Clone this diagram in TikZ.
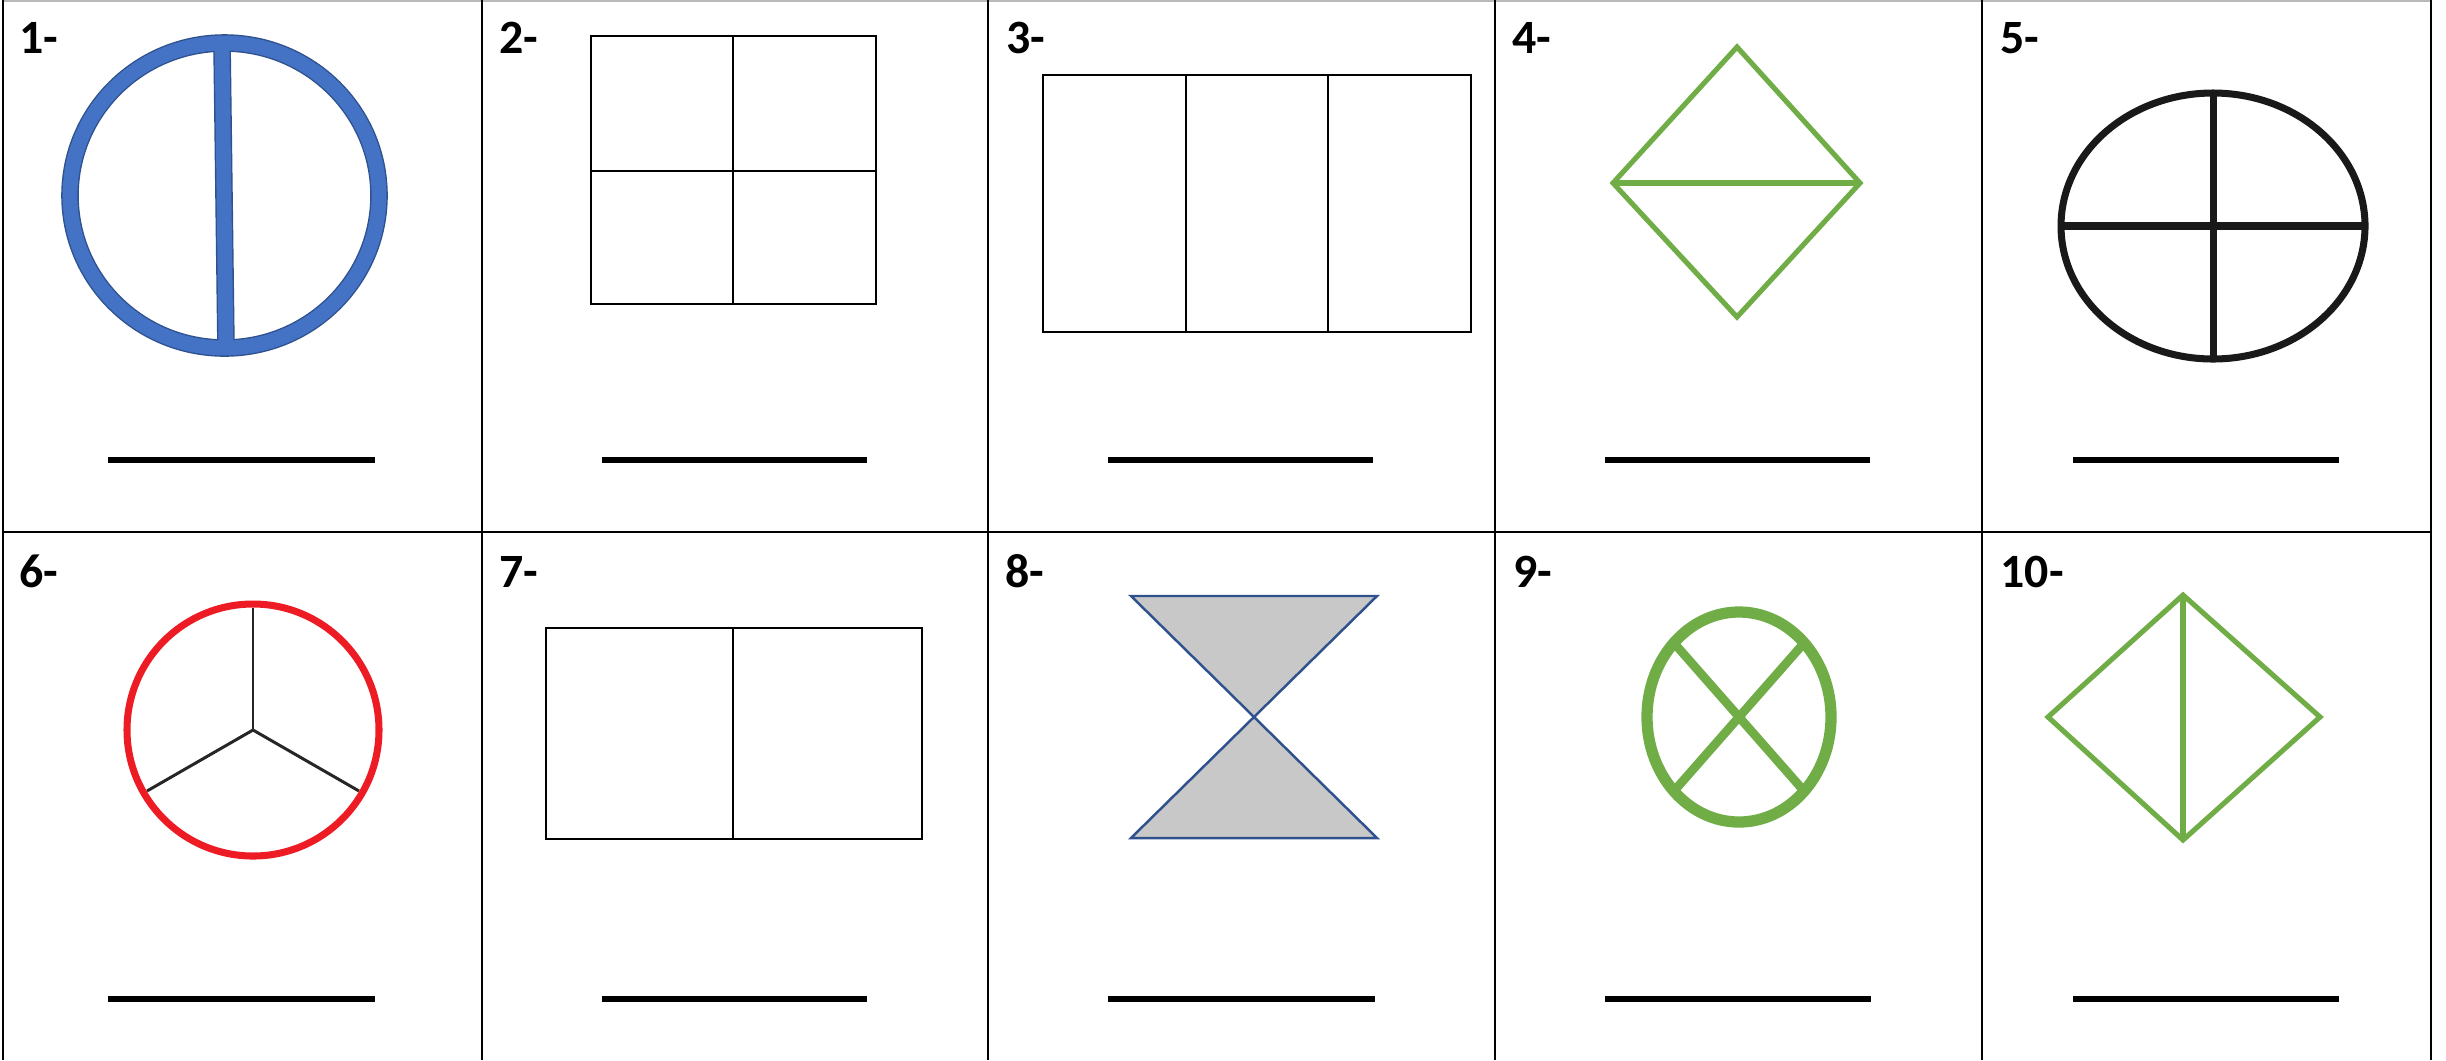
\documentclass[tikz,border=0pt]{standalone}
\usepackage{fontspec}
\setmainfont{Carlito}
\usepackage{xcolor}

\definecolor{shapeblue}{HTML}{4472C4}
\definecolor{edgeblue}{HTML}{2F528F}
\definecolor{leafgreen}{HTML}{70AD47}
\definecolor{ringred}{HTML}{ED1C24}
\definecolor{hourgrey}{HTML}{C8C8C8}

\begin{document}
\begin{tikzpicture}[
    x=0.01cm, y=-0.01cm,
    every node/.style={font=\fontsize{13.6}{15}\selectfont\bfseries},
    num/.style={anchor=base west, inner sep=0pt},
    cellrule/.style={line width=0.6pt},
    blank/.style={line width=1.6pt},
    boxline/.style={line width=0.62pt},
    greenline/.style={draw=leafgreen, line width=1.45pt, line join=miter}
]
\useasboundingbox (0,0) rectangle (2446,1060);

% cells
\draw[cellrule, gray!55] (3,1) -- (2431,1);
\draw[cellrule] (3,0) -- (3,1060);
\draw[cellrule] (482,0) -- (482,1060);
\draw[cellrule] (988,0) -- (988,1060);
\draw[cellrule] (1495,0) -- (1495,1060);
\draw[cellrule] (1982,0) -- (1982,1060);
\draw[cellrule] (2431,0) -- (2431,1060);
\draw[cellrule] (3,532) -- (2431,532);

% numbers
\node[num] (n1) at (19,53) {1-};
\node[num] (n2) at (499,53) {2-};
\node[num] (n3) at (1006,53) {3-};
\node[num] (n4) at (1512,53) {4-};
\node[num] (n5) at (2000,53) {5-};
\node[num] (n6) at (19,587) {6-};
\node[num] (n7) at (499,587) {7-};
\node[num] (n8) at (1005,587) {8-};
\node[num] (n9) at (1513,587) {9-};
\node[num] (n10) at (2000,587) {10-};

% answer lines
\draw[blank] (108,460) -- (375,460);
\draw[blank] (602,460) -- (867,460);
\draw[blank] (1108,460) -- (1373,460);
\draw[blank] (1605,460) -- (1870,460);
\draw[blank] (2073,460) -- (2339,460);
\draw[blank] (108,999) -- (375,999);
\draw[blank] (602,999) -- (867,999);
\draw[blank] (1108,999) -- (1375,999);
\draw[blank] (1605,999) -- (1871,999);
\draw[blank] (2073,999) -- (2339,999);

% 1
\draw[edgeblue, line width=5pt] (224.5,195.5) ellipse (154.5 and 152.5);
\draw[edgeblue, line width=5pt] (222,43) -- (226,348);
\draw[shapeblue, line width=4.2pt] (224.5,195.5) ellipse (154.5 and 152.5);
\draw[shapeblue, line width=4.2pt] (222,43) -- (226,348);

% 2
\draw[boxline] (591,36) rectangle (876,304);
\draw[boxline] (733,36) -- (733,304);
\draw[boxline] (591,171) -- (876,171);

% 3
\draw[boxline] (1043,75) rectangle (1471,332);
\draw[boxline] (1186,75) -- (1186,332);
\draw[boxline] (1328,75) -- (1328,332);

% 4
\draw[greenline] (1737,47) -- (1860,183) -- (1737,317) -- (1613,183) -- cycle;
\draw[greenline] (1613,183) -- (1860,183);

% 5
\draw[black!90, line width=2pt] (2213,226) ellipse (152 and 133);
\draw[black!90, line width=2pt] (2213,93) -- (2213,359);
\draw[black!90, line width=2pt] (2061,226) -- (2365,226);

% 6
\draw[black!85, line width=0.85pt] (253,730) -- (253,608);
\draw[black!85, line width=0.85pt] (253,730) -- (147,791);
\draw[black!85, line width=0.85pt] (253,730) -- (359,791);
\draw[ringred, line width=2pt] (253,730) circle (126);

% 7
\draw[boxline] (546,628) rectangle (922,839);
\draw[boxline] (733,628) -- (733,839);

% 8
\draw[draw=edgeblue, fill=hourgrey, line width=0.7pt, line join=miter]
  (1131,596) -- (1377,596) -- (1131,838) -- (1377,838) -- cycle;

% 9
\draw[leafgreen, line width=3.2pt] (1739,717) ellipse (92 and 105);
\draw[leafgreen, line width=2.5pt] (1674,643) -- (1804,791);
\draw[leafgreen, line width=2.5pt] (1804,643) -- (1674,791);

% 10
\draw[greenline] (2183,595) -- (2320,717) -- (2183,840) -- (2048,717) -- cycle;
\draw[greenline] (2183,595) -- (2183,840);

\end{tikzpicture}
\end{document}
